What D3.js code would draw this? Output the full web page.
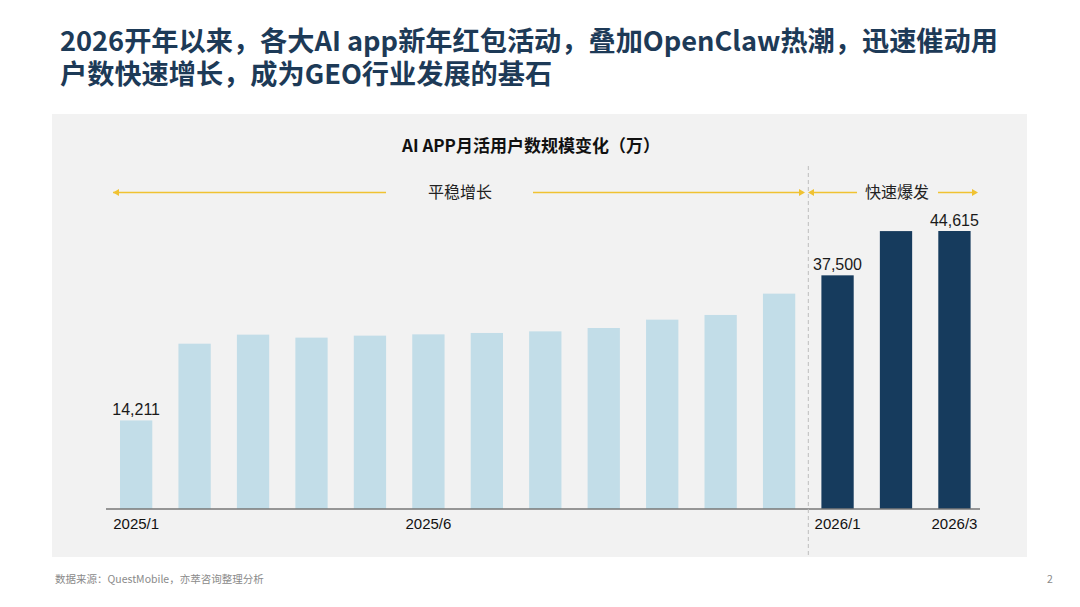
<!DOCTYPE html>
<html><head><meta charset="utf-8">
<script src="https://cdn.jsdelivr.net/npm/d3@7"></script>
<style>
html,body{margin:0;padding:0;background:#fff;}
svg{display:block;}
</style></head>
<body>
<svg id="c" width="1080" height="607"></svg>
<script>
const months = ["2025/1","2025/2","2025/3","2025/4","2025/5","2025/6","2025/7","2025/8","2025/9","2025/10","2025/11","2025/12","2026/1","2026/2","2026/3"];
const users = [14211,26530,27980,27500,27820,28030,28250,28510,29050,30390,31140,34560,37500,44600,44615];
const phase = ["平稳增长","平稳增长","平稳增长","平稳增长","平稳增长","平稳增长","平稳增长","平稳增长","平稳增长","平稳增长","平稳增长","平稳增长","快速爆发","快速爆发","快速爆发"];
const shownValues = ["14,211","","","","","","","","","","","","37,500","","44,615"];
const tickLabels = ["2025/1","2025/6","2026/1","2026/3"];
const titleLines = ["2026开年以来，各大AI app新年红包活动，叠加OpenClaw热潮，迅速催动用","户数快速增长，成为GEO行业发展的基石"];
const chartTitle = "AI APP月活用户数规模变化（万）";
const phaseNames = ["平稳增长","快速爆发"];
const source = "数据来源：QuestMobile，亦萃咨询整理分析";

const svg = d3.select("#c");
const CJK = "'Noto Sans CJK SC','Noto Sans',sans-serif";
const LAT = "'Liberation Sans',Arial,sans-serif";

// title
svg.selectAll("text.title").data(titleLines).join("text").attr("class","title")
  .attr("x",60).attr("y",(d,i)=>51+i*33).attr("fill","#1d3a57")
  .style("font-family",CJK).style("font-weight",700).style("font-size","27.2px")
  .text(d=>d);

// panel
svg.append("rect").attr("x",52).attr("y",114).attr("width",975).attr("height",443).attr("fill","#f2f2f2");

svg.append("text").attr("x",531).attr("y",152).attr("text-anchor","middle")
  .style("font-family",CJK).style("font-weight",700).style("font-size","17px").attr("fill","#111")
  .text(chartTitle);

const baseY = 509;
const step = 58.45, bw = 32.3;
const pad = (step-bw)/step;
const x0 = 120 - (step-bw)/2;
const xs = d3.scaleBand().domain(months).range([x0, x0 + step*15]).paddingInner(pad).paddingOuter(pad/2);
const y = d3.scaleLinear().domain([0, 44615]).range([baseY, 231]);

const g = svg.append("g");
g.selectAll("rect.bar").data(months).join("rect").attr("class","bar")
  .attr("x",d=>xs(d)).attr("width",xs.bandwidth())
  .attr("y",(d,i)=>y(users[i])).attr("height",(d,i)=>baseY-y(users[i]))
  .attr("fill",(d,i)=>phase[i]==="快速爆发"?"#163b5d":"#c2dde8");

g.selectAll("text.val").data(months).join("text").attr("class","val")
  .attr("x",d=>xs(d)+xs.bandwidth()/2).attr("y",(d,i)=>y(users[i])-5)
  .attr("text-anchor","middle").style("font-family",LAT).style("font-size","16px").attr("fill","#1a1a1a")
  .text((d,i)=>shownValues[i]);

// axis
const axis = d3.axisBottom(xs).tickValues(tickLabels).tickSize(0).tickPadding(9);
const ag = svg.append("g").attr("transform",`translate(0,${baseY})`).call(axis);
ag.select(".domain").attr("d",`M106,0H980`).attr("stroke","#777").attr("stroke-width",1.5);
ag.selectAll("text").style("font-family",LAT).style("font-size","15px").attr("fill","#111");

// divider
const firstFast = phase.indexOf("快速爆发");
const divX = (xs(months[firstFast-1])+xs.bandwidth()+xs(months[firstFast]))/2;
svg.append("line").attr("x1",divX).attr("x2",divX).attr("y1",166).attr("y2",557)
  .attr("stroke","#bdbdbd").attr("stroke-width",1).attr("stroke-dasharray","4,3");

// phase arrows
const arrowY = 192.5, yellow = "#f0c232";
function arrowHead(xTip, dir){
  svg.append("path").attr("d",`M${xTip},${arrowY}L${xTip-dir*6},${arrowY-3.5}L${xTip-dir*6},${arrowY+3.5}Z`).attr("fill",yellow);
}
function seg(x1,x2){
  svg.append("line").attr("x1",x1).attr("x2",x2).attr("y1",arrowY).attr("y2",arrowY).attr("stroke",yellow).attr("stroke-width",1.3);
}
seg(113,386); arrowHead(113,-1);
seg(533,803); arrowHead(805,1);
seg(810,857); arrowHead(808,-1);
seg(938,976); arrowHead(978,1);
svg.append("text").attr("x",460).attr("y",arrowY+5.5).attr("text-anchor","middle")
  .style("font-family",CJK).style("font-size","16px").attr("fill","#222").text(phaseNames[0]);
svg.append("text").attr("x",897).attr("y",arrowY+5.5).attr("text-anchor","middle")
  .style("font-family",CJK).style("font-size","16px").attr("fill","#222").text(phaseNames[1]);

// footer
svg.append("text").attr("x",55).attr("y",583).style("font-family",CJK).style("font-size","10.5px").attr("fill","#8a8a8a").text(source);
svg.append("text").attr("x",1050).attr("y",583).attr("text-anchor","middle").style("font-family",CJK).style("font-size","10.5px").attr("fill","#8a8a8a").text("2");
</script>
</body></html>
